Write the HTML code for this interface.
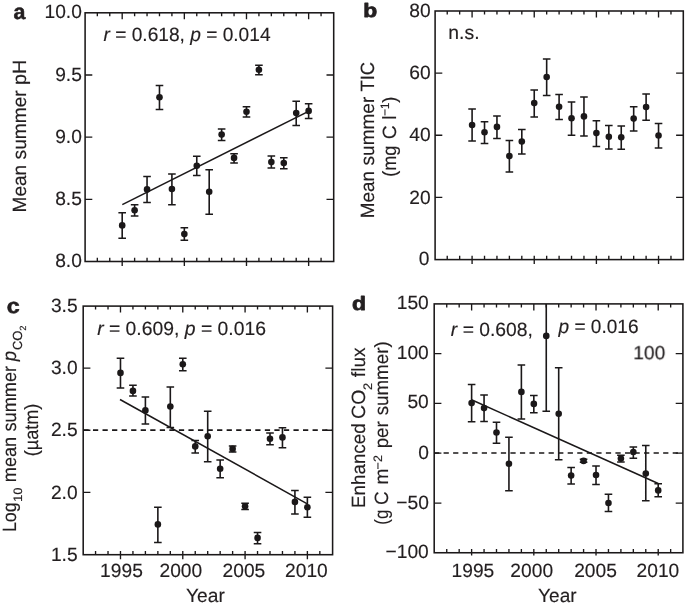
<!DOCTYPE html>
<html lang="en"><head><meta charset="utf-8"><title>Figure</title>
<style>
html,body{margin:0;padding:0;background:#fff;}
body{width:685px;height:607px;overflow:hidden;}
svg{display:block;}
#fig{width:685px;height:607px;will-change:transform;}
text{font-family:"Liberation Sans", sans-serif;fill:#231f20;text-rendering:geometricPrecision;}
</style></head><body>
<div id="fig"><svg width="685" height="607" viewBox="0 0 685 607">
<defs><mask id="m" maskUnits="userSpaceOnUse" x="0" y="0" width="685" height="607"><rect width="685" height="607" fill="#fff"/></mask></defs>
<path d="M97.33 12.80v3.5M97.33 257.70v3.8M109.76 12.80v3.5M109.76 257.70v3.8M122.19 12.80v6.5M122.19 257.70v8.30M134.62 12.80v3.5M134.62 257.70v3.8M147.05 12.80v3.5M147.05 257.70v3.8M159.48 12.80v3.5M159.48 257.70v3.8M171.91 12.80v3.5M171.91 257.70v3.8M184.34 12.80v6.5M184.34 257.70v8.30M196.77 12.80v3.5M196.77 257.70v3.8M209.20 12.80v3.5M209.20 257.70v3.8M221.63 12.80v3.5M221.63 257.70v3.8M234.06 12.80v3.5M234.06 257.70v3.8M246.49 12.80v6.5M246.49 257.70v8.30M258.92 12.80v3.5M258.92 257.70v3.8M271.35 12.80v3.5M271.35 257.70v3.8M283.78 12.80v3.5M283.78 257.70v3.8M296.21 12.80v3.5M296.21 257.70v3.8M308.64 12.80v6.5M308.64 257.70v8.30M321.07 12.80v3.5M321.07 257.70v3.8M85.10 74.95h7.2M333.70 74.95h-7.2M85.10 137.10h7.2M333.70 137.10h-7.2M85.10 199.30h7.2M333.70 199.30h-7.2" stroke="#1b1819" stroke-width="1.35" fill="none"/>
<path d="M122.3 204.6L308.5 111.3" stroke="#1b1819" stroke-width="1.5" fill="none"/>
<path d="M122.19 212.80V238.30M134.62 204.80V215.90M147.05 176.40V202.50M159.48 85.40V109.50M171.91 174.00V204.80M184.34 227.80V240.20M196.77 156.20V175.60M209.20 169.70V214.30M221.63 128.90V140.40M234.06 153.80V163.00M246.49 106.70V117.10M258.92 65.20V74.70M271.35 156.10V168.10M283.78 157.70V168.80M296.21 101.20V125.60M308.64 103.70V118.50" stroke="#1b1819" stroke-width="1.6" fill="none"/>
<path d="M118.39 212.80h7.6M118.39 238.30h7.6M130.82 204.80h7.6M130.82 215.90h7.6M143.25 176.40h7.6M143.25 202.50h7.6M155.68 85.40h7.6M155.68 109.50h7.6M168.11 174.00h7.6M168.11 204.80h7.6M180.54 227.80h7.6M180.54 240.20h7.6M192.97 156.20h7.6M192.97 175.60h7.6M205.40 169.70h7.6M205.40 214.30h7.6M217.83 128.90h7.6M217.83 140.40h7.6M230.26 153.80h7.6M230.26 163.00h7.6M242.69 106.70h7.6M242.69 117.10h7.6M255.12 65.20h7.6M255.12 74.70h7.6M267.55 156.10h7.6M267.55 168.10h7.6M279.98 157.70h7.6M279.98 168.80h7.6M292.41 101.20h7.6M292.41 125.60h7.6M304.84 103.70h7.6M304.84 118.50h7.6" stroke="#1b1819" stroke-width="1.5" fill="none"/>
<g fill="#1b1819"><circle cx="122.19" cy="225.40" r="3.3"/><circle cx="134.62" cy="210.20" r="3.3"/><circle cx="147.05" cy="189.40" r="3.3"/><circle cx="159.48" cy="97.20" r="3.3"/><circle cx="171.91" cy="189.00" r="3.3"/><circle cx="184.34" cy="234.10" r="3.3"/><circle cx="196.77" cy="165.70" r="3.3"/><circle cx="209.20" cy="191.80" r="3.3"/><circle cx="221.63" cy="134.60" r="3.3"/><circle cx="234.06" cy="157.90" r="3.3"/><circle cx="246.49" cy="111.80" r="3.3"/><circle cx="258.92" cy="69.80" r="3.3"/><circle cx="271.35" cy="162.10" r="3.3"/><circle cx="283.78" cy="163.00" r="3.3"/><circle cx="296.21" cy="113.00" r="3.3"/><circle cx="308.64" cy="110.90" r="3.3"/></g>
<rect x="85.10" y="12.80" width="248.60" height="248.70" fill="none" stroke="#1b1819" stroke-width="1.55"/>
<path d="M447.23 11.00v3.5M447.23 255.80v3.8M459.66 11.00v3.5M459.66 255.80v3.8M472.09 11.00v6.5M472.09 255.80v8.30M484.52 11.00v3.5M484.52 255.80v3.8M496.95 11.00v3.5M496.95 255.80v3.8M509.38 11.00v3.5M509.38 255.80v3.8M521.81 11.00v3.5M521.81 255.80v3.8M534.24 11.00v6.5M534.24 255.80v8.30M546.67 11.00v3.5M546.67 255.80v3.8M559.10 11.00v3.5M559.10 255.80v3.8M571.53 11.00v3.5M571.53 255.80v3.8M583.96 11.00v3.5M583.96 255.80v3.8M596.39 11.00v6.5M596.39 255.80v8.30M608.82 11.00v3.5M608.82 255.80v3.8M621.25 11.00v3.5M621.25 255.80v3.8M633.68 11.00v3.5M633.68 255.80v3.8M646.11 11.00v3.5M646.11 255.80v3.8M658.54 11.00v6.5M658.54 255.80v8.30M670.97 11.00v3.5M670.97 255.80v3.8M435.10 73.10h7.2M683.30 73.10h-7.2M435.10 135.20h7.2M683.30 135.20h-7.2M435.10 197.35h7.2M683.30 197.35h-7.2" stroke="#1b1819" stroke-width="1.35" fill="none"/>
<path d="M472.09 109.10V141.10M484.52 121.80V143.40M496.95 116.00V138.50M509.38 140.60V172.10M521.81 129.50V153.90M534.24 90.10V116.90M546.67 59.00V95.60M559.10 94.40V119.60M571.53 101.90V135.30M583.96 97.10V136.10M596.39 120.70V146.40M608.82 125.40V149.00M621.25 125.90V149.20M633.68 106.80V131.00M646.11 93.90V120.30M658.54 123.50V148.10" stroke="#1b1819" stroke-width="1.6" fill="none"/>
<path d="M468.29 109.10h7.6M468.29 141.10h7.6M480.72 121.80h7.6M480.72 143.40h7.6M493.15 116.00h7.6M493.15 138.50h7.6M505.58 140.60h7.6M505.58 172.10h7.6M518.01 129.50h7.6M518.01 153.90h7.6M530.44 90.10h7.6M530.44 116.90h7.6M542.87 59.00h7.6M542.87 95.60h7.6M555.30 94.40h7.6M555.30 119.60h7.6M567.73 101.90h7.6M567.73 135.30h7.6M580.16 97.10h7.6M580.16 136.10h7.6M592.59 120.70h7.6M592.59 146.40h7.6M605.02 125.40h7.6M605.02 149.00h7.6M617.45 125.90h7.6M617.45 149.20h7.6M629.88 106.80h7.6M629.88 131.00h7.6M642.31 93.90h7.6M642.31 120.30h7.6M654.74 123.50h7.6M654.74 148.10h7.6" stroke="#1b1819" stroke-width="1.5" fill="none"/>
<g fill="#1b1819"><circle cx="472.09" cy="125.00" r="3.3"/><circle cx="484.52" cy="132.30" r="3.3"/><circle cx="496.95" cy="126.90" r="3.3"/><circle cx="509.38" cy="156.10" r="3.3"/><circle cx="521.81" cy="141.50" r="3.3"/><circle cx="534.24" cy="103.10" r="3.3"/><circle cx="546.67" cy="77.00" r="3.3"/><circle cx="559.10" cy="106.80" r="3.3"/><circle cx="571.53" cy="118.20" r="3.3"/><circle cx="583.96" cy="116.40" r="3.3"/><circle cx="596.39" cy="133.10" r="3.3"/><circle cx="608.82" cy="136.80" r="3.3"/><circle cx="621.25" cy="137.20" r="3.3"/><circle cx="633.68" cy="118.60" r="3.3"/><circle cx="646.11" cy="107.00" r="3.3"/><circle cx="658.54" cy="135.50" r="3.3"/></g>
<rect x="435.10" y="11.00" width="248.20" height="248.60" fill="none" stroke="#1b1819" stroke-width="1.55"/>
<path d="M95.56 306.10v3.5M95.56 550.90v3.8M108.02 306.10v3.5M108.02 550.90v3.8M120.48 306.10v6.5M120.48 550.90v8.30M132.94 306.10v3.5M132.94 550.90v3.8M145.40 306.10v3.5M145.40 550.90v3.8M157.86 306.10v3.5M157.86 550.90v3.8M170.32 306.10v3.5M170.32 550.90v3.8M182.78 306.10v6.5M182.78 550.90v8.30M195.24 306.10v3.5M195.24 550.90v3.8M207.70 306.10v3.5M207.70 550.90v3.8M220.16 306.10v3.5M220.16 550.90v3.8M232.62 306.10v3.5M232.62 550.90v3.8M245.08 306.10v6.5M245.08 550.90v8.30M257.54 306.10v3.5M257.54 550.90v3.8M270.00 306.10v3.5M270.00 550.90v3.8M282.46 306.10v3.5M282.46 550.90v3.8M294.92 306.10v3.5M294.92 550.90v3.8M307.38 306.10v6.5M307.38 550.90v8.30M319.84 306.10v3.5M319.84 550.90v3.8M83.20 368.15h7.2M332.60 368.15h-7.2M83.20 430.20h7.2M332.60 430.20h-7.2M83.20 492.30h7.2M332.60 492.30h-7.2" stroke="#1b1819" stroke-width="1.35" fill="none"/>
<path d="M83.41 430.1H332.60" stroke="#1b1819" stroke-width="1.55" stroke-dasharray="5.25 4.298" fill="none"/>
<path d="M120.0 399.5L307.3 503.8" stroke="#1b1819" stroke-width="1.5" fill="none"/>
<path d="M120.48 358.30V387.90M132.94 385.30V396.00M145.40 397.10V423.90M157.86 507.30V542.40M170.32 387.00V427.50M182.78 358.30V370.70M195.24 440.40V453.00M207.70 411.20V461.80M220.16 460.00V477.70M232.62 446.10V451.90M245.08 503.20V509.50M257.54 532.50V543.80M270.00 433.00V444.70M282.46 427.70V447.70M294.92 490.40V513.90M307.38 497.30V517.20" stroke="#1b1819" stroke-width="1.6" fill="none"/>
<path d="M116.68 358.30h7.6M116.68 387.90h7.6M129.14 385.30h7.6M129.14 396.00h7.6M141.60 397.10h7.6M141.60 423.90h7.6M154.06 507.30h7.6M154.06 542.40h7.6M166.52 387.00h7.6M166.52 427.50h7.6M178.98 358.30h7.6M178.98 370.70h7.6M191.44 440.40h7.6M191.44 453.00h7.6M203.90 411.20h7.6M203.90 461.80h7.6M216.36 460.00h7.6M216.36 477.70h7.6M228.82 446.10h7.6M228.82 451.90h7.6M241.28 503.20h7.6M241.28 509.50h7.6M253.74 532.50h7.6M253.74 543.80h7.6M266.20 433.00h7.6M266.20 444.70h7.6M278.66 427.70h7.6M278.66 447.70h7.6M291.12 490.40h7.6M291.12 513.90h7.6M303.58 497.30h7.6M303.58 517.20h7.6" stroke="#1b1819" stroke-width="1.5" fill="none"/>
<g fill="#1b1819"><circle cx="120.48" cy="372.90" r="3.3"/><circle cx="132.94" cy="390.90" r="3.3"/><circle cx="145.40" cy="410.40" r="3.3"/><circle cx="157.86" cy="524.40" r="3.3"/><circle cx="170.32" cy="406.50" r="3.3"/><circle cx="182.78" cy="364.30" r="3.3"/><circle cx="195.24" cy="446.40" r="3.3"/><circle cx="207.70" cy="436.20" r="3.3"/><circle cx="220.16" cy="468.70" r="3.3"/><circle cx="232.62" cy="448.90" r="3.3"/><circle cx="245.08" cy="506.20" r="3.3"/><circle cx="257.54" cy="537.90" r="3.3"/><circle cx="270.00" cy="438.70" r="3.3"/><circle cx="282.46" cy="437.40" r="3.3"/><circle cx="294.92" cy="501.90" r="3.3"/><circle cx="307.38" cy="507.20" r="3.3"/></g>
<rect x="83.20" y="306.10" width="249.40" height="248.60" fill="none" stroke="#1b1819" stroke-width="1.55"/>
<path d="M446.74 303.90v3.5M446.74 548.95v3.8M459.18 303.90v3.5M459.18 548.95v3.8M471.62 303.90v6.5M471.62 548.95v6.50M484.06 303.90v3.5M484.06 548.95v3.8M496.50 303.90v3.5M496.50 548.95v3.8M508.94 303.90v3.5M508.94 548.95v3.8M521.38 303.90v3.5M521.38 548.95v3.8M533.82 303.90v6.5M533.82 548.95v6.50M546.26 303.90v3.5M546.26 548.95v3.8M558.70 303.90v3.5M558.70 548.95v3.8M571.14 303.90v3.5M571.14 548.95v3.8M583.58 303.90v3.5M583.58 548.95v3.8M596.02 303.90v6.5M596.02 548.95v6.50M608.46 303.90v3.5M608.46 548.95v3.8M620.90 303.90v3.5M620.90 548.95v3.8M633.34 303.90v3.5M633.34 548.95v3.8M645.78 303.90v3.5M645.78 548.95v3.8M658.22 303.90v6.5M658.22 548.95v6.50M670.66 303.90v3.5M670.66 548.95v3.8M434.20 353.60h7.2M682.90 353.60h-7.2M434.20 403.30h7.2M682.90 403.30h-7.2M434.20 453.10h7.2M682.90 453.10h-7.2M434.20 503.10h7.2M682.90 503.10h-7.2" stroke="#1b1819" stroke-width="1.35" fill="none"/>
<path d="M434.02 453.0H682.90" stroke="#1b1819" stroke-width="1.55" stroke-dasharray="5.25 4.297" fill="none"/>
<path d="M471.5 399.7L658.2 483.5" stroke="#1b1819" stroke-width="1.5" fill="none"/>
<path d="M471.62 384.40V421.80M484.06 395.10V421.60M496.50 422.20V443.20M508.94 437.20V490.70M521.38 365.00V418.90M533.82 395.50V412.80M546.26 303.90V411.30M558.70 367.80V459.80M571.14 467.50V484.00M583.58 459.30V462.30M596.02 466.00V484.40M608.46 494.20V511.40M620.90 455.30V462.10M633.34 446.90V458.30M645.78 445.60V500.70M658.22 483.70V496.80" stroke="#1b1819" stroke-width="1.6" fill="none"/>
<path d="M467.82 384.40h7.6M467.82 421.80h7.6M480.26 395.10h7.6M480.26 421.60h7.6M492.70 422.20h7.6M492.70 443.20h7.6M505.14 437.20h7.6M505.14 490.70h7.6M517.58 365.00h7.6M517.58 418.90h7.6M530.02 395.50h7.6M530.02 412.80h7.6M542.46 411.30h7.6M554.90 367.80h7.6M554.90 459.80h7.6M567.34 467.50h7.6M567.34 484.00h7.6M579.78 459.30h7.6M579.78 462.30h7.6M592.22 466.00h7.6M592.22 484.40h7.6M604.66 494.20h7.6M604.66 511.40h7.6M617.10 455.30h7.6M617.10 462.10h7.6M629.54 446.90h7.6M629.54 458.30h7.6M641.98 445.60h7.6M641.98 500.70h7.6M654.42 483.70h7.6M654.42 496.80h7.6" stroke="#1b1819" stroke-width="1.5" fill="none"/>
<g fill="#1b1819"><circle cx="471.62" cy="403.10" r="3.3"/><circle cx="484.06" cy="408.10" r="3.3"/><circle cx="496.50" cy="432.50" r="3.3"/><circle cx="508.94" cy="463.70" r="3.3"/><circle cx="521.38" cy="391.90" r="3.3"/><circle cx="533.82" cy="403.90" r="3.3"/><circle cx="546.26" cy="335.90" r="3.3"/><circle cx="558.70" cy="413.70" r="3.3"/><circle cx="571.14" cy="475.60" r="3.3"/><circle cx="583.58" cy="460.90" r="3.3"/><circle cx="596.02" cy="475.00" r="3.3"/><circle cx="608.46" cy="503.00" r="3.3"/><circle cx="620.90" cy="458.50" r="3.3"/><circle cx="633.34" cy="452.00" r="3.3"/><circle cx="645.78" cy="473.50" r="3.3"/><circle cx="658.22" cy="490.40" r="3.3"/></g>
<rect x="434.20" y="303.90" width="248.70" height="248.85" fill="none" stroke="#1b1819" stroke-width="1.55"/>
<g mask="url(#m)">
<text id="la" transform="translate(13.61 18.52) scale(0.9714 0.9680)" font-size="22" font-weight="bold" stroke="#231f20" stroke-width="0.55" stroke-linejoin="round">a</text>
<text id="lb" transform="translate(363.31 17.21) scale(1.0870 0.9212)" font-size="21" font-weight="bold" stroke="#231f20" stroke-width="0.9" stroke-linejoin="round">b</text>
<text id="lc" transform="translate(6.87 312.83) scale(1.0578 0.9440)" font-size="22" font-weight="bold" stroke="#231f20" stroke-width="0.6" stroke-linejoin="round">c</text>
<text id="ld" transform="translate(351.96 310.31) scale(1.0870 0.9212)" font-size="21" font-weight="bold" stroke="#231f20" stroke-width="0.9" stroke-linejoin="round">d</text>
<text id="ya0" transform="translate(44.45 18.20) scale(0.9960 1.0000)" font-size="19.3" stroke="#231f20" stroke-width="0.16">10.0</text>
<text id="ya1" transform="translate(55.15 80.95) scale(0.9960 1.0000)" font-size="19.3" stroke="#231f20" stroke-width="0.16">9.5</text>
<text id="ya2" transform="translate(55.15 142.90) scale(0.9960 1.0000)" font-size="19.3" stroke="#231f20" stroke-width="0.16">9.0</text>
<text id="ya3" transform="translate(55.15 205.10) scale(0.9960 1.0000)" font-size="19.3" stroke="#231f20" stroke-width="0.16">8.5</text>
<text id="ya4" transform="translate(55.15 266.80) scale(0.9960 1.0000)" font-size="19.3" stroke="#231f20" stroke-width="0.16">8.0</text>
<text id="yb0" transform="translate(409.23 17.25) scale(0.9960 1.0000)" font-size="19.3" stroke="#231f20" stroke-width="0.16">80</text>
<text id="yb1" transform="translate(409.23 79.35) scale(0.9960 1.0000)" font-size="19.3" stroke="#231f20" stroke-width="0.16">60</text>
<text id="yb2" transform="translate(409.23 141.45) scale(0.9960 1.0000)" font-size="19.3" stroke="#231f20" stroke-width="0.16">40</text>
<text id="yb3" transform="translate(409.23 203.60) scale(0.9960 1.0000)" font-size="19.3" stroke="#231f20" stroke-width="0.16">20</text>
<text id="yb4" transform="translate(418.64 265.35) scale(0.9960 1.0000)" font-size="19.3" stroke="#231f20" stroke-width="0.16">0</text>
<text id="yc0" transform="translate(50.90 311.80) scale(0.9960 1.0000)" font-size="19.3" stroke="#231f20" stroke-width="0.16">3.5</text>
<text id="yc1" transform="translate(50.90 373.55) scale(0.9960 1.0000)" font-size="19.3" stroke="#231f20" stroke-width="0.16">3.0</text>
<text id="yc2" transform="translate(50.90 435.70) scale(0.9960 1.0000)" font-size="19.3" stroke="#231f20" stroke-width="0.16">2.5</text>
<text id="yc3" transform="translate(50.90 498.50) scale(0.9960 1.0000)" font-size="19.3" stroke="#231f20" stroke-width="0.16">2.0</text>
<text id="yc4" transform="translate(50.90 560.80) scale(0.9960 1.0000)" font-size="19.3" stroke="#231f20" stroke-width="0.16">1.5</text>
<text id="yd0" transform="translate(396.73 309.25) scale(0.9960 1.0000)" font-size="19.3" stroke="#231f20" stroke-width="0.16">150</text>
<text id="yd1" transform="translate(396.73 358.55) scale(0.9960 1.0000)" font-size="19.3" stroke="#231f20" stroke-width="0.16">100</text>
<text id="yd2" transform="translate(407.43 408.15) scale(0.9960 1.0000)" font-size="19.3" stroke="#231f20" stroke-width="0.16">50</text>
<text id="yd3" transform="translate(418.14 459.10) scale(0.9960 1.0000)" font-size="19.3" stroke="#231f20" stroke-width="0.16">0</text>
<text id="yd4" transform="translate(396.23 508.90) scale(0.9960 1.0000)" font-size="19.3" stroke="#231f20" stroke-width="0.16">−50</text>
<text id="yd5" transform="translate(385.52 557.70) scale(0.9960 1.0000)" font-size="19.3" stroke="#231f20" stroke-width="0.16">−100</text>
<text id="xc1995" transform="translate(100.12 576.50) scale(0.9960 1.0000)" font-size="19.3" stroke="#231f20" stroke-width="0.16">1995</text>
<text id="xc2000" transform="translate(159.51 576.50) scale(0.9960 1.0000)" font-size="19.3" stroke="#231f20" stroke-width="0.16">2000</text>
<text id="xc2005" transform="translate(222.56 576.50) scale(0.9960 1.0000)" font-size="19.3" stroke="#231f20" stroke-width="0.16">2005</text>
<text id="xc2010" transform="translate(285.06 576.50) scale(0.9960 1.0000)" font-size="19.3" stroke="#231f20" stroke-width="0.16">2010</text>
<text id="xd1995" transform="translate(451.52 576.50) scale(0.9960 1.0000)" font-size="19.3" stroke="#231f20" stroke-width="0.16">1995</text>
<text id="xd2000" transform="translate(510.36 576.50) scale(0.9960 1.0000)" font-size="19.3" stroke="#231f20" stroke-width="0.16">2000</text>
<text id="xd2005" transform="translate(574.16 576.50) scale(0.9960 1.0000)" font-size="19.3" stroke="#231f20" stroke-width="0.16">2005</text>
<text id="xd2010" transform="translate(636.56 576.50) scale(0.9960 1.0000)" font-size="19.3" stroke="#231f20" stroke-width="0.16">2010</text>
<text id="yearc" transform="translate(186.00 602.30) scale(0.9961 1.0000)" font-size="19.3" stroke="#231f20" stroke-width="0.16">Year</text>
<text id="yeard" transform="translate(538.11 602.30) scale(0.9882 1.0000)" font-size="19.3" stroke="#231f20" stroke-width="0.16">Year</text>
<text id="anna" transform="translate(103.55 41.10) scale(0.9920 1.0000)" font-size="19.3" stroke="#231f20" stroke-width="0.16"><tspan font-style="italic">r</tspan> = 0.618, <tspan font-style="italic">p</tspan> = 0.014</text>
<text id="annc" transform="translate(97.15 334.50) scale(1.0027 1.0000)" font-size="19.3" stroke="#231f20" stroke-width="0.16"><tspan font-style="italic">r</tspan> = 0.609, <tspan font-style="italic">p</tspan> = 0.016</text>
<text id="annd1" transform="translate(450.85 335.60) scale(1.0000 1.0000)" font-size="19.3" stroke="#231f20" stroke-width="0.16"><tspan font-style="italic">r</tspan> = 0.608,</text>
<text id="annd2" transform="translate(558.59 333.40) scale(0.9870 1.0000)" font-size="19.3" stroke="#231f20" stroke-width="0.16"><tspan font-style="italic">p</tspan> = 0.016</text>
<text id="annd3" transform="translate(633.23 359.30) scale(0.9960 1.0000)" font-size="19.3" stroke="#231f20" stroke-width="0.16">100</text>
<text id="annb" transform="translate(448.34 38.60) scale(1.0053 1.0000)" font-size="19.3" stroke="#231f20" stroke-width="0.16">n.s.</text>
<text id="ta1" transform="translate(25.60 212.38) rotate(-90) scale(0.9878 1)" font-size="19.2" stroke="#231f20" stroke-width="0.16">Mean</text>
<text id="ta2" transform="translate(25.60 159.40) rotate(-90) scale(0.9971 1)" font-size="19.2" stroke="#231f20" stroke-width="0.16">summer</text>
<text id="ta3" transform="translate(25.60 84.98) rotate(-90) scale(1.0253 1)" font-size="19.2" stroke="#231f20" stroke-width="0.16">pH</text>
<text id="tb1" transform="translate(373.70 218.28) rotate(-90) scale(0.9856 1)" font-size="19.2" stroke="#231f20" stroke-width="0.16">Mean</text>
<text id="tb2" transform="translate(373.70 165.40) rotate(-90) scale(0.9912 1)" font-size="19.2" stroke="#231f20" stroke-width="0.16">summer</text>
<text id="tb3" transform="translate(373.70 91.49) rotate(-90) scale(0.9583 1)" font-size="19.2" stroke="#231f20" stroke-width="0.16">TIC</text>
<text id="tb4" transform="translate(396.00 176.84) rotate(-90) scale(0.9419 1)" font-size="19.2" stroke="#231f20" stroke-width="0.16">(mg</text>
<text id="tb5" transform="translate(396.00 139.20) rotate(-90) scale(1.0041 1)" font-size="19.2" stroke="#231f20" stroke-width="0.16">C</text>
<text id="tb6" transform="translate(396.00 119.83) rotate(-90) scale(0.9461 1)" font-size="19.2" stroke="#231f20" stroke-width="0.16">l<tspan font-size="12.2" dy="-7">−1</tspan><tspan dy="7">)</tspan></text>
<text id="tc1" transform="translate(15.60 532.09) rotate(-90) scale(0.9299 1)" font-size="19.2" stroke="#231f20" stroke-width="0.16">Log</text>
<text id="tc2" transform="translate(22.40 502.00) rotate(-90) scale(1.0720 1)" font-size="12.2" stroke="#231f20" stroke-width="0.16">10</text>
<text id="tc3" transform="translate(15.60 482.18) rotate(-90) scale(0.9451 1)" font-size="19.2" stroke="#231f20" stroke-width="0.16">mean</text>
<text id="tc4" transform="translate(15.60 431.47) rotate(-90) scale(0.9474 1)" font-size="19.2" stroke="#231f20" stroke-width="0.16">summer</text>
<text id="tc5" transform="translate(16.20 361.22) rotate(-90) scale(0.9674 1)" font-size="19.2" stroke="#231f20" stroke-width="0.16"><tspan font-style="italic">p</tspan></text>
<text id="tc6" transform="translate(22.10 349.99) rotate(-90) scale(0.9813 1)" font-size="13.2" stroke="#231f20" stroke-width="0.16">CO</text>
<text id="tc7" transform="translate(26.20 330.76) rotate(-90) scale(1.0444 1)" font-size="9.0" stroke="#231f20" stroke-width="0.16">2</text>
<text id="tc8" transform="translate(38.40 456.24) rotate(-90) scale(0.9414 1)" font-size="19.2" stroke="#231f20" stroke-width="0.16">(µatm)</text>
<text id="td1" transform="translate(365.30 507.97) rotate(-90) scale(0.9791 1)" font-size="19.2" stroke="#231f20" stroke-width="0.16">Enhanced</text>
<text id="td2" transform="translate(365.30 418.91) rotate(-90) scale(1.0148 1)" font-size="19.2" stroke="#231f20" stroke-width="0.16">CO</text>
<text id="td3" transform="translate(372.10 389.92) rotate(-90) scale(1.0435 1)" font-size="12.3" stroke="#231f20" stroke-width="0.16">2</text>
<text id="td4" transform="translate(365.30 377.15) rotate(-90) scale(0.9932 1)" font-size="19.2" stroke="#231f20" stroke-width="0.16">flux</text>
<text id="td5" transform="translate(387.70 524.68) rotate(-90) scale(0.8800 1)" font-size="19.2" stroke="#231f20" stroke-width="0.16">(g</text>
<text id="td6" transform="translate(387.70 504.99) rotate(-90) scale(0.9878 1)" font-size="19.2" stroke="#231f20" stroke-width="0.16">C</text>
<text id="td7" transform="translate(387.70 484.54) rotate(-90) scale(0.9926 1)" font-size="19.2" stroke="#231f20" stroke-width="0.16">m</text>
<text id="td8" transform="translate(381.70 469.42) rotate(-90) scale(1.0308 1)" font-size="12.2" stroke="#231f20" stroke-width="0.16">−2</text>
<text id="td9" transform="translate(387.70 448.32) rotate(-90) scale(0.9752 1)" font-size="19.2" stroke="#231f20" stroke-width="0.16">per</text>
<text id="td10" transform="translate(387.70 415.29) rotate(-90) scale(0.9770 1)" font-size="19.2" stroke="#231f20" stroke-width="0.16">summer)</text>
</g>
</svg></div>
</body></html>
